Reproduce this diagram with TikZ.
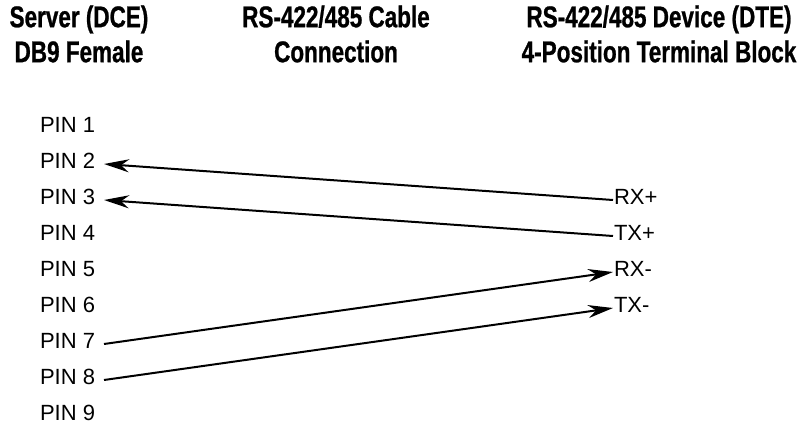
\documentclass[tikz,border=0pt]{standalone}
\usepackage{fontspec}
\setmainfont{Liberation Sans}
\newfontfamily\headfont[FakeStretch=0.75, FakeBold=0.8]{Liberation Sans}
\usetikzlibrary{positioning,arrows.meta}

\begin{document}
\begin{tikzpicture}[
  head/.style={font=\headfont\bfseries\fontsize{30}{35}\selectfont, align=center, inner sep=0pt},
  pin/.style={font=\fontsize{22}{26}\selectfont, text height=16pt, text depth=0pt, inner ysep=0pt, inner xsep=9pt, outer sep=0pt},
  sig/.style={font=\fontsize{22}{26}\selectfont, text height=16pt, text depth=0pt, inner ysep=0pt, inner xsep=1pt, outer sep=0pt},
  wire/.style={line width=2pt},
  arr/.style={wire, -{Stealth[length=25pt, width=13pt, inset=8pt]}},
  node distance=20pt]
\useasboundingbox (0,0) rectangle (797pt,-425pt);
% ---------------- column headings
\node[head] (srv) at (79pt,-34pt) {Server (DCE)\\DB9 Female};
\node[head] (cab) at (336pt,-34pt) {RS-422/485 Cable\\Connection};
\node[head] (dev) at (659pt,-34pt) {RS-422/485 Device (DTE)\\4-Position Terminal Block};
% ---------------- DB9 pins
\node[pin, anchor=west] (p1) at (31pt,-124pt) {PIN 1};
\node[pin, below=of p1] (p2) {PIN 2};
\node[pin, below=of p2] (p3) {PIN 3};
\node[pin, below=of p3] (p4) {PIN 4};
\node[pin, below=of p4] (p5) {PIN 5};
\node[pin, below=of p5] (p6) {PIN 6};
\node[pin, below=of p6] (p7) {PIN 7};
\node[pin, below=of p7] (p8) {PIN 8};
\node[pin, below=of p8] (p9) {PIN 9};
% ---------------- terminal block signals
\node[sig, anchor=west] (rxp) at (613pt,0 |- p3) {RX+};
\node[sig, below=of rxp.south west, anchor=north west] (txp) {TX+};
\node[sig, below=of txp.south west, anchor=north west] (rxm) {RX-};
\node[sig, below=of rxm.south west, anchor=north west] (txm) {TX-};
% ---------------- cable wiring
\draw[arr] ([yshift=-4pt]rxp.west) -- ([yshift=-4pt]p2.east);
\draw[arr] ([yshift=-4pt]txp.west) -- ([yshift=-4pt]p3.east);
\draw[arr] ([yshift=-4pt]p7.east) -- ([yshift=-4pt]rxm.west);
\draw[arr] ([yshift=-4pt]p8.east) -- ([yshift=-4pt]txm.west);
\end{tikzpicture}
\end{document}
